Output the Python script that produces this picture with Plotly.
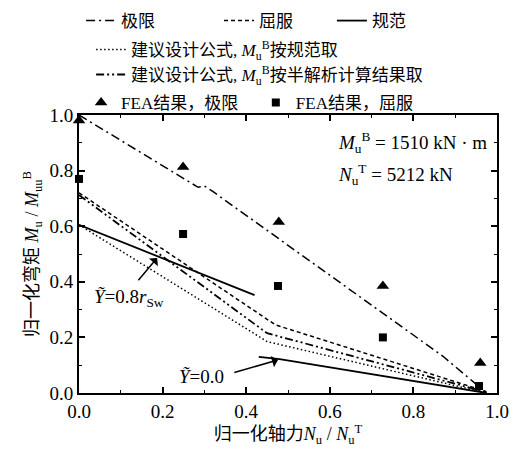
import plotly.graph_objects as go

FONT = "Liberation Serif, Noto Sans CJK SC, serif"

# ---- data (normalized) ----
ult_x = [0.0, 0.285, 0.30, 0.32, 0.87, 0.975]
ult_y = [1.0, 0.74, 0.745, 0.725, 0.133, 0.0]

yld_x = [0.0, 0.47, 0.975]
yld_y = [0.72, 0.245, 0.005]

code1_x = [0.0, 0.42]
code1_y = [0.605, 0.352]
code2_x = [0.43, 0.48, 0.975]
code2_y = [0.13, 0.122, 0.0]

dsgn_code_x = [0.0, 0.45, 0.975]
dsgn_code_y = [0.605, 0.185, 0.0]

dsgn_semi_x = [0.0, 0.45, 0.975]
dsgn_semi_y = [0.712, 0.215, 0.003]

fea_ult_x = [0.0, 0.249, 0.478, 0.727, 0.96]
fea_ult_y = [0.98, 0.813, 0.615, 0.385, 0.108]

fea_yld_x = [0.0, 0.249, 0.476, 0.727, 0.957]
fea_yld_y = [0.77, 0.572, 0.385, 0.20, 0.025]

xticks = [0.0, 0.2, 0.4, 0.6, 0.8, 1.0]
yticks = [0.0, 0.2, 0.4, 0.6, 0.8, 1.0]

fig = go.Figure()
blk = "black"
fig.add_trace(go.Scatter(x=ult_x, y=ult_y, mode="lines", name="极限", legend="legend",
                         line=dict(color=blk, width=1.5, dash="9px,4px,2px,4px")))
fig.add_trace(go.Scatter(x=yld_x, y=yld_y, mode="lines", name="屈服", legend="legend2",
                         line=dict(color=blk, width=1.5, dash="4px,3px")))
fig.add_trace(go.Scatter(x=code1_x, y=code1_y, mode="lines", name="规范", legend="legend3",
                         line=dict(color=blk, width=1.8)))
fig.add_trace(go.Scatter(x=code2_x, y=code2_y, mode="lines", name="规范", showlegend=False,
                         line=dict(color=blk, width=1.8)))
fig.add_trace(go.Scatter(x=dsgn_code_x, y=dsgn_code_y, mode="lines", legend="legend4",
                         name="建议设计公式, <i>M</i><sub>u</sub><sup>B</sup>按规范取",
                         line=dict(color=blk, width=1.5, dash="1.5px,2.5px")))
fig.add_trace(go.Scatter(x=dsgn_semi_x, y=dsgn_semi_y, mode="lines", legend="legend5",
                         name="建议设计公式, <i>M</i><sub>u</sub><sup>B</sup>按半解析计算结果取",
                         line=dict(color=blk, width=1.8, dash="8px,3px,2px,3px,2px,3px")))
fig.add_trace(go.Scatter(x=fea_ult_x, y=fea_ult_y, mode="markers", legend="legend6",
                         name="FEA结果，极限", cliponaxis=False,
                         marker=dict(symbol="triangle-up", size=11, color=blk)))
fig.add_trace(go.Scatter(x=fea_yld_x, y=fea_yld_y, mode="markers", legend="legend7",
                         name="FEA结果，屈服", cliponaxis=False,
                         marker=dict(symbol="square", size=8, color=blk)))

def leg(x, y):
    return dict(x=x, y=y, xref="paper", yref="paper", xanchor="left", yanchor="middle",
                bgcolor="rgba(0,0,0,0)", font=dict(family=FONT, size=17, color=blk),
                itemwidth=30, tracegroupgap=0)

fig.update_layout(
    width=516, height=449,
    margin=dict(l=79, r=19, t=115, b=56, autoexpand=False),
    paper_bgcolor="white", plot_bgcolor="white",
    font=dict(family=FONT, size=18, color=blk),
    legend=leg(0.005, 1.338),
    legend2=leg(0.335, 1.338),
    legend3=leg(0.605, 1.338),
    legend4=leg(0.029, 1.234),
    legend5=leg(0.029, 1.144),
    legend6=leg(0.005, 1.043),
    legend7=leg(0.423, 1.043),
)

axis_common = dict(showline=True, linecolor=blk, linewidth=2, mirror="allticks",
                   ticks="inside", ticklen=6, tickwidth=1.5, tickcolor=blk,
                   showgrid=False, zeroline=False,
                   minor=dict(ticks="inside", ticklen=3, tickwidth=1, tickcolor=blk, dtick=0.1, showgrid=False),
                   tickfont=dict(family=FONT, size=19, color=blk))
fig.update_xaxes(range=[0, 1.0], tickvals=xticks, ticktext=[f"{v:.1f}" for v in xticks],
                 title=dict(text="归一化轴力<i>N</i><sub>u</sub> / <i>N</i><sub>u</sub><sup>T</sup>",
                            font=dict(family=FONT, size=18), standoff=6), **axis_common)
fig.update_yaxes(range=[0, 1.0], tickvals=yticks, ticktext=[f"{v:.1f}" for v in yticks],
                 title=dict(text="归一化弯矩 <i>M</i><sub>u</sub> / <i>M</i><sub>uu</sub><sup>B</sup>",
                            font=dict(family=FONT, size=18), standoff=6), **axis_common)

ann_font = dict(family=FONT, size=19, color=blk)
fig.add_annotation(x=0.615, y=0.90, xref="paper", yref="paper", xanchor="left", yanchor="middle",
                   text="<i>M</i><sub>u</sub><sup>B</sup> = 1510 kN · m", showarrow=False, font=ann_font)
fig.add_annotation(x=0.615, y=0.785, xref="paper", yref="paper", xanchor="left", yanchor="middle",
                   text="<i>N</i><sub>u</sub><sup>T</sup> = 5212 kN", showarrow=False, font=ann_font)

fig.add_annotation(x=0.03, y=0.34, xref="x", yref="y", xanchor="left", yanchor="middle",
                   text="<i>Ỹ</i>=0.8<i>r</i><sub>Sw</sub>", showarrow=False, font=ann_font)
fig.add_annotation(x=0.187, y=0.486, ax=0.139, ay=0.40, xref="x", yref="y", axref="x", ayref="y",
                   text="", showarrow=True, arrowhead=1, arrowsize=1.3, arrowwidth=1.5, arrowcolor=blk)
fig.add_annotation(x=0.234, y=0.058, xref="x", yref="y", xanchor="left", yanchor="middle",
                   text="<i>Ỹ</i>=0.0", showarrow=False, font=ann_font)
fig.add_annotation(x=0.476, y=0.119, ax=0.368, ay=0.072, xref="x", yref="y", axref="x", ayref="y",
                   text="", showarrow=True, arrowhead=1, arrowsize=1.3, arrowwidth=1.5, arrowcolor=blk)

fig.write_html("out.html")
